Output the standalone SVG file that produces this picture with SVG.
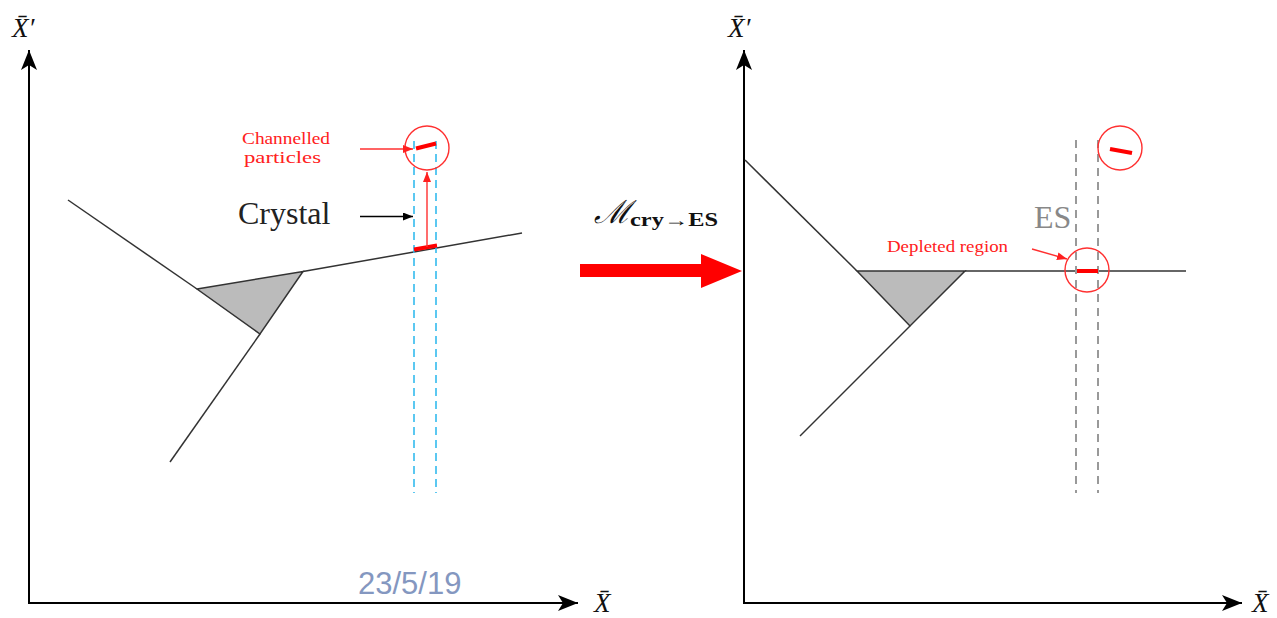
<svg xmlns="http://www.w3.org/2000/svg" width="1277" height="618" viewBox="0 0 1277 618">
<defs>
<marker id="axh" viewBox="0 0 20 16" refX="20" refY="8" markerWidth="20" markerHeight="16" markerUnits="userSpaceOnUse" orient="auto">
<path d="M0,0 L20,8 L0,16 L5,8 Z" fill="#000"/>
</marker>
<marker id="rh" viewBox="0 0 10 8" refX="10" refY="4" markerWidth="10" markerHeight="8" markerUnits="userSpaceOnUse" orient="auto">
<path d="M0,0 L10,4 L0,8 Z" fill="#ff2020"/>
</marker>
<marker id="bh" viewBox="0 0 10 8" refX="10" refY="4" markerWidth="10" markerHeight="8" markerUnits="userSpaceOnUse" orient="auto">
<path d="M0,0 L10,4 L0,8 Z" fill="#000"/>
</marker>
</defs>
<style>
.axis{stroke:#000;stroke-width:2;fill:none}
.ln{stroke:#333;stroke-width:1.5;fill:none}
.tri{fill:#bbbbbb;stroke:#333;stroke-width:1.5}
.blue{stroke:#33bbee;stroke-width:1.6;stroke-dasharray:8,5;fill:none}
.gray{stroke:#999;stroke-width:2;stroke-dasharray:8,6;fill:none}
.rc{stroke:#ff3030;stroke-width:1.4;fill:none}
.rs{stroke:#ff0000;stroke-width:4;fill:none}
.ra{stroke:#ff3030;stroke-width:1.4;fill:none}
.lbl{font-family:"Liberation Serif","DejaVu Serif",serif;font-style:italic;font-size:27px;fill:#111}
.red{font-family:"Liberation Serif","DejaVu Serif",serif;font-size:16px;fill:#ff2020}
</style>
<rect width="1277" height="618" fill="#fff"/>

<g id="left-axes">
<line class="axis" x1="29" y1="604" x2="29" y2="50" marker-end="url(#axh)"/>
<line class="axis" x1="28" y1="603" x2="578" y2="603" marker-end="url(#axh)"/>
<text class="lbl" x="12" y="37">X̄′</text>
<text class="lbl" x="594" y="612">X̄</text>
</g>

<g id="left-crystal">
<line class="ln" x1="68" y1="200" x2="197" y2="289"/>
<line class="ln" x1="260" y1="334" x2="170" y2="462"/>
<line class="ln" x1="303" y1="271.5" x2="522" y2="233"/>
<polygon class="tri" points="197,289 303,271.5 260,334"/>
</g>

<g id="left-channel">
<line class="blue" x1="414" y1="141" x2="414" y2="493"/>
<line class="blue" x1="436" y1="141" x2="436" y2="493"/>
<line class="rs" x1="414" y1="249.5" x2="437" y2="245.5"/>
<line class="ra" x1="427" y1="247" x2="427" y2="172" marker-end="url(#rh)"/>
<circle class="rc" cx="427" cy="148" r="22"/>
<line class="rs" x1="416" y1="148.5" x2="436" y2="143.5"/>
</g>

<g id="left-labels">
<text class="red" x="242" y="144" textLength="88" lengthAdjust="spacingAndGlyphs">Channelled</text>
<text class="red" x="244" y="163" textLength="77" lengthAdjust="spacingAndGlyphs">particles</text>
<line class="ra" x1="360" y1="149" x2="413" y2="149" marker-end="url(#rh)"/>
<text x="238" y="224" font-family="Liberation Serif, serif" font-size="32" fill="#222">Crystal</text>
<line x1="360" y1="216.5" x2="413" y2="216.5" stroke="#000" stroke-width="1.4" marker-end="url(#bh)"/>
</g>

<g id="mapping">
<text x="594" y="223" font-family="Liberation Serif, DejaVu Serif, serif" font-style="italic" font-size="32" fill="#111">ℳ</text>
<text x="630" y="226" font-family="Liberation Serif, DejaVu Serif, serif" font-weight="bold" font-size="18" fill="#111" textLength="88" lengthAdjust="spacingAndGlyphs">cry→ES</text>
<polygon points="580,264 701,264 701,254 742,271 701,288 701,277 580,277" fill="#ff0000"/>
</g>

<g id="right-axes">
<line class="axis" x1="744" y1="604" x2="744" y2="50" marker-end="url(#axh)"/>
<line class="axis" x1="743" y1="603" x2="1242" y2="603" marker-end="url(#axh)"/>
<text class="lbl" x="728" y="37">X̄′</text>
<text class="lbl" x="1252" y="612">X̄</text>
</g>

<g id="right-crystal">
<line class="ln" x1="745" y1="160" x2="857" y2="271"/>
<line class="ln" x1="910" y1="326" x2="800" y2="436"/>
<line class="ln" x1="965" y1="271" x2="1186" y2="271"/>
<polygon class="tri" points="857,271 965,271 910,326"/>
</g>

<g id="right-es">
<line class="gray" x1="1076" y1="140" x2="1076" y2="493"/>
<line class="gray" x1="1098" y1="140" x2="1098" y2="493"/>
<text x="1034" y="228" font-family="Liberation Serif, serif" font-size="32" fill="#888">ES</text>
<circle class="rc" cx="1120" cy="148" r="22"/>
<line class="rs" x1="1110" y1="149" x2="1132" y2="153"/>
<circle class="rc" cx="1087" cy="270" r="22"/>
<line class="rs" x1="1077" y1="271" x2="1098" y2="271"/>
<text class="red" x="887" y="252" textLength="121" lengthAdjust="spacingAndGlyphs">Depleted region</text>
<line class="ra" x1="1032" y1="249" x2="1067" y2="259" marker-end="url(#rh)"/>
</g>

<g id="footer">
<text x="358" y="594" font-family="Liberation Sans, Arial, sans-serif" font-size="31" fill="#8497c0">23/5/19</text>
</g>
</svg>
